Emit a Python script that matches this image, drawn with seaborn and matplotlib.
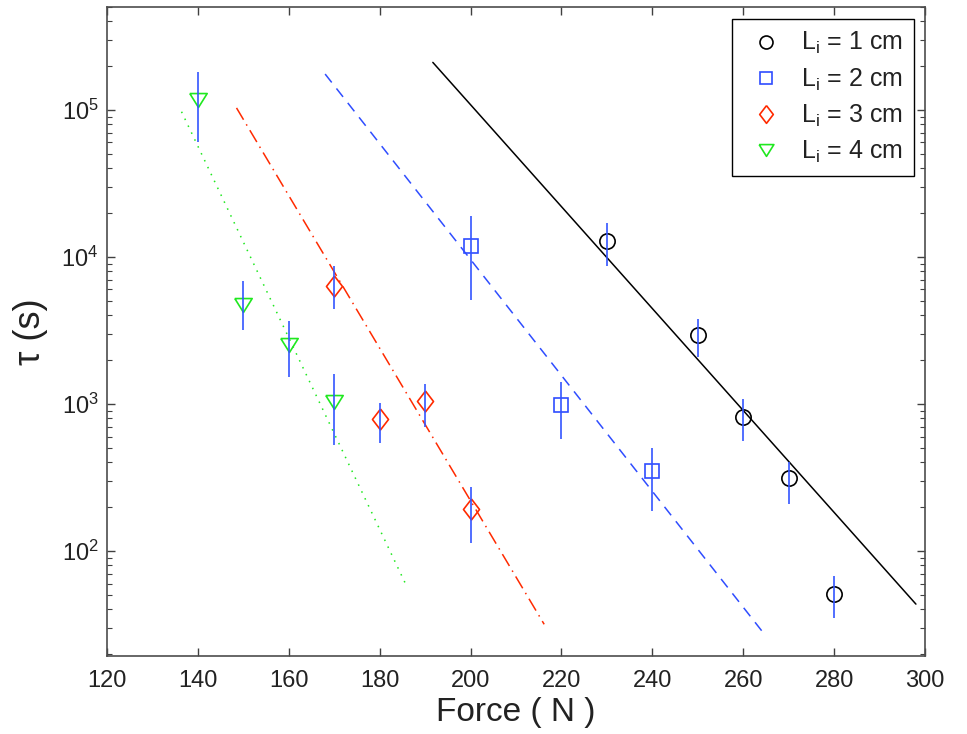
import numpy as np
import pandas as pd
import matplotlib
matplotlib.use("Agg")
import matplotlib.pyplot as plt
import seaborn as sns
from matplotlib.lines import Line2D

# ---------------- data ----------------
force_1 = [230, 250, 260, 270, 280]
tau_1 = [1.29e4, 2.92e3, 811, 313, 50.7]
lo_1 = [8.7e3, 2.1e3, 562, 209, 34.8]
hi_1 = [1.69e4, 3.77e3, 1.08e3, 405, 68]

force_2 = [200, 220, 240]
tau_2 = [1.19e4, 988, 347]
lo_2 = [5.05e3, 575, 188]
hi_2 = [1.9e4, 1.40e3, 500]

force_3 = [170, 180, 190, 200]
tau_3 = [6.35e3, 787, 1.04e3, 192]
lo_3 = [4.4e3, 546, 701, 114]
hi_3 = [8.6e3, 1.01e3, 1.37e3, 271]

force_4 = [140, 150, 160, 170]
tau_4 = [1.16e5, 4.74e3, 2.51e3, 1.03e3]
lo_4 = [6.0e4, 3.19e3, 1.53e3, 526]
hi_4 = [1.8e5, 6.8e3, 3.67e3, 1.6e3]

# fitted lines (end points)
fit_x_1 = [191.7, 298.0]
fit_y_1 = [2.1e5, 43.5]
fit_x_2 = [168.0, 264.8]
fit_y_2 = [1.75e5, 26.8]
fit_x_3 = [148.5, 216.2]
fit_y_3 = [1.03e5, 31.7]
fit_x_4 = [136.4, 185.7]
fit_y_4 = [9.7e4, 59.7]

labels = [r"L$_\mathregular{i}$ = 1 cm", r"L$_\mathregular{i}$ = 2 cm",
          r"L$_\mathregular{i}$ = 3 cm", r"L$_\mathregular{i}$ = 4 cm"]

x_ticks = [120, 140, 160, 180, 200, 220, 240, 260, 280, 300]

# ---------------- style ----------------
sns.set_style("ticks")
plt.rcParams["font.family"] = ["Liberation Sans", "DejaVu Sans"]
plt.rcParams["mathtext.fontset"] = "custom"
plt.rcParams["mathtext.rm"] = "Liberation Sans"
plt.rcParams["mathtext.it"] = "Liberation Sans:italic"

BLACK = "#000000"
BLUE = "#2f4dff"
RED = "#ff2a00"
GREEN = "#1fe81f"
ERR = "#3355ff"

diamond = [(0, 1), (0.77, 0), (0, -1), (-0.77, 0), (0, 1)]
tri_down = [(-1, 0.8), (1, 0.8), (0, -0.8), (-1, 0.8)]

series = [
    (force_1, tau_1, lo_1, hi_1, fit_x_1, fit_y_1, BLACK, "o", 11.0, None),
    (force_2, tau_2, lo_2, hi_2, fit_x_2, fit_y_2, BLUE, "s", 9.6, (7, 5)),
    (force_3, tau_3, lo_3, hi_3, fit_x_3, fit_y_3, RED, diamond, 15.0, (9, 3.5, 1, 3.5)),
    (force_4, tau_4, lo_4, hi_4, fit_x_4, fit_y_4, GREEN, tri_down, 12.5, (1, 4)),
]

fig = plt.figure(figsize=(9.67, 7.34), dpi=100)
ax = fig.add_axes([107 / 967, (734 - 656) / 734, 818 / 967, 649 / 734])

handles = []
for (fx, ty, lo, hi, lx, ly, col, mk, ms, dash), lab in zip(series, labels):
    df_fit = pd.DataFrame({"x": lx, "y": ly})
    sns.lineplot(data=df_fit, x="x", y="y", color=col, linewidth=1.1, ax=ax,
                 estimator=None, sort=False)
    if dash is not None:
        ax.lines[-1].set_dashes(dash)

    df_pts = pd.DataFrame({"x": fx, "y": ty})
    sns.lineplot(data=df_pts, x="x", y="y", ax=ax, estimator=None, sort=False,
                 linestyle="", marker=mk, markersize=ms, markerfacecolor="none",
                 markeredgecolor=col, markeredgewidth=1.2, color=col)
    ty_a = np.array(ty)
    yerr = np.vstack([ty_a - np.array(lo), np.array(hi) - ty_a])
    ax.errorbar(fx, ty, yerr=yerr, fmt="none", ecolor=ERR, elinewidth=1.2,
                capsize=0, zorder=3)
    handles.append(Line2D([], [], linestyle="", marker=mk, markersize=ms * 0.85,
                          markerfacecolor="none", markeredgecolor=col,
                          markeredgewidth=1.2, label=lab))

ax.set_yscale("log")
ax.set_xlim(120, 300)
ax.set_ylim(19.3, 5.0e5)
ax.set_xticks(x_ticks)
ax.set_xticklabels([str(v) for v in x_ticks])

ax.tick_params(axis="both", which="both", direction="in", top=True, right=True,
               labelsize=17, colors="0.25", labelcolor="#222222")
ax.tick_params(axis="both", which="major", length=6, width=1)
ax.tick_params(axis="y", which="minor", length=3.5, width=0.8)
ax.tick_params(axis="x", which="both", pad=10)
ax.tick_params(axis="y", which="both", pad=6)
for sp in ax.spines.values():
    sp.set_color("0.3")
    sp.set_linewidth(1.2)

ax.set_xlabel("Force ( N )", fontsize=24, color="#222222", labelpad=4)
ax.set_ylabel("τ (s)", fontsize=26, color="#222222", labelpad=10)

leg = ax.legend(handles=handles, loc="upper right",
                bbox_to_anchor=(0.9866, 0.9815), borderaxespad=0,
                fontsize=18, frameon=True, fancybox=False, framealpha=1,
                edgecolor="black", handletextpad=0.5, labelspacing=0.4,
                borderpad=0.45, handlelength=1.8)
leg.get_frame().set_linewidth(1.0)
for t in leg.get_texts():
    t.set_color("#222222")

fig.savefig("out.png", dpi=100)
